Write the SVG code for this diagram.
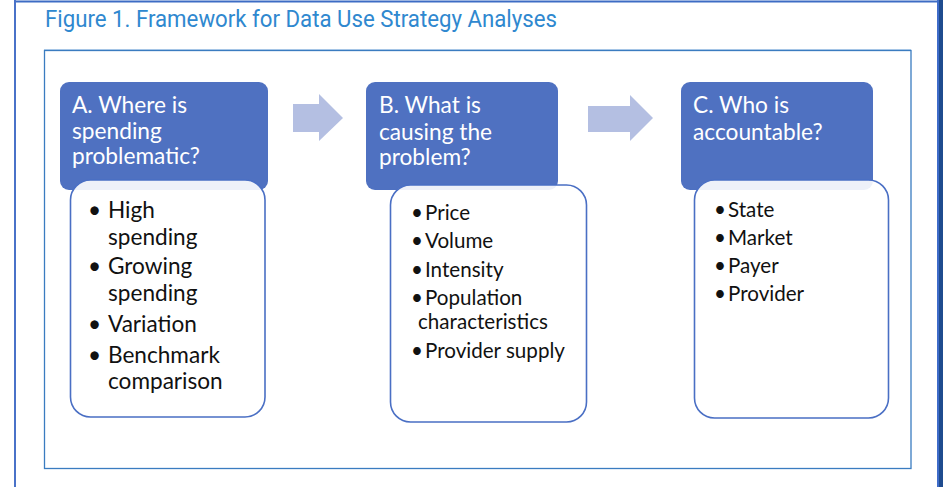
<svg xmlns="http://www.w3.org/2000/svg" width="943" height="487" viewBox="0 0 943 487">
  <defs>
    <style>
      .title { font-family: Roboto, "Liberation Sans", sans-serif; font-size: 23px; fill: #2f88cf; }
      .head { font-family: Lato, "Open Sans", sans-serif; font-size: 22.7px; fill: #ffffff; }
      .item { font-family: Lato, "Open Sans", sans-serif; font-size: 22.6px; fill: #111111; }
      .itemS { font-family: Lato, "Open Sans", sans-serif; font-size: 20.6px; fill: #111111; }
      .hdr { fill: #4f71c1; }
      .card { fill: #ffffff; fill-opacity: 0.9; stroke: #4a6fc4; stroke-width: 1.6; }
      .arrow { fill: #b4bfe2; }
    </style>
  </defs>

  <!-- page frame -->
  <rect x="0" y="0" width="943" height="487" fill="#ffffff"/>
  <line x1="14" y1="1.5" x2="938" y2="1.5" stroke="#3d6cc4" stroke-width="2"/>
  <line x1="15" y1="0" x2="15" y2="487" stroke="#4a72c8" stroke-width="2"/>
  <rect x="937" y="0" width="2" height="487" fill="#3f6cc9"/>
  <rect x="939" y="0" width="4" height="487" fill="#1f4c8f"/>

  <text class="title" x="45" y="27" textLength="512" lengthAdjust="spacingAndGlyphs">Figure 1. Framework for Data Use Strategy Analyses</text>

  <!-- panel -->
  <line x1="44" y1="49.5" x2="911" y2="49.5" stroke="#b9d3ec" stroke-width="1"/>
  <rect x="44.5" y="50.5" width="866.5" height="418" fill="none" stroke="#3a7cc0" stroke-width="1.3"/>

  <!-- step A -->
  <g id="stepA">
    <rect class="hdr" x="60" y="82" width="208" height="108" rx="9"/>
    <text class="head" x="72" y="113">A. Where is</text>
    <text class="head" x="72" y="139">spending</text>
    <text class="head" x="72" y="164">problematic?</text>
    <rect class="card" x="70.5" y="180" width="194.5" height="237" rx="20"/>
    <text class="item" x="88" y="218">•</text><text class="item" x="108" y="218">High</text>
    <text class="item" x="108" y="245">spending</text>
    <text class="item" x="88" y="274">•</text><text class="item" x="108" y="274">Growing</text>
    <text class="item" x="108" y="301">spending</text>
    <text class="item" x="88" y="332">•</text><text class="item" x="108" y="332">Variation</text>
    <text class="item" x="88" y="363">•</text><text class="item" x="108" y="363">Benchmark</text>
    <text class="item" x="108" y="389">comparison</text>
  </g>

  <!-- step B -->
  <g id="stepB">
    <rect class="hdr" x="366" y="82" width="192" height="108" rx="9"/>
    <text class="head" x="379" y="113">B. What is</text>
    <text class="head" x="379" y="140">causing the</text>
    <text class="head" x="379" y="165">problem?</text>
    <rect class="card" x="390.5" y="185" width="196" height="237" rx="20"/>
    <text class="itemS" x="411" y="220">•</text><text class="itemS" x="425" y="220">Price</text>
    <text class="itemS" x="411" y="248">•</text><text class="itemS" x="425" y="248">Volume</text>
    <text class="itemS" x="411" y="277">•</text><text class="itemS" x="425" y="277">Intensity</text>
    <text class="itemS" x="411" y="305">•</text><text class="itemS" x="425" y="305">Population</text>
    <text class="itemS" x="418" y="329">characteristics</text>
    <text class="itemS" x="411" y="358">•</text><text class="itemS" x="425" y="358">Provider supply</text>
  </g>

  <!-- step C -->
  <g id="stepC">
    <rect class="hdr" x="681" y="82" width="192" height="108" rx="9"/>
    <text class="head" x="693" y="113">C. Who is</text>
    <text class="head" x="693" y="140">accountable?</text>
    <rect class="card" x="694.5" y="180" width="194" height="238" rx="20"/>
    <text class="itemS" x="714" y="217">•</text><text class="itemS" x="728" y="217">State</text>
    <text class="itemS" x="714" y="245">•</text><text class="itemS" x="728" y="245">Market</text>
    <text class="itemS" x="714" y="273">•</text><text class="itemS" x="728" y="273">Payer</text>
    <text class="itemS" x="714" y="301">•</text><text class="itemS" x="728" y="301">Provider</text>
  </g>

  <!-- connectors -->
  <g id="connectors">
    <polygon class="arrow" points="293,104 319,104 319,94 343,118 319,141 319,132 293,132"/>
    <polygon class="arrow" points="588,106 630,106 630,95 653,118 630,141 630,132 588,132"/>
  </g>
</svg>
